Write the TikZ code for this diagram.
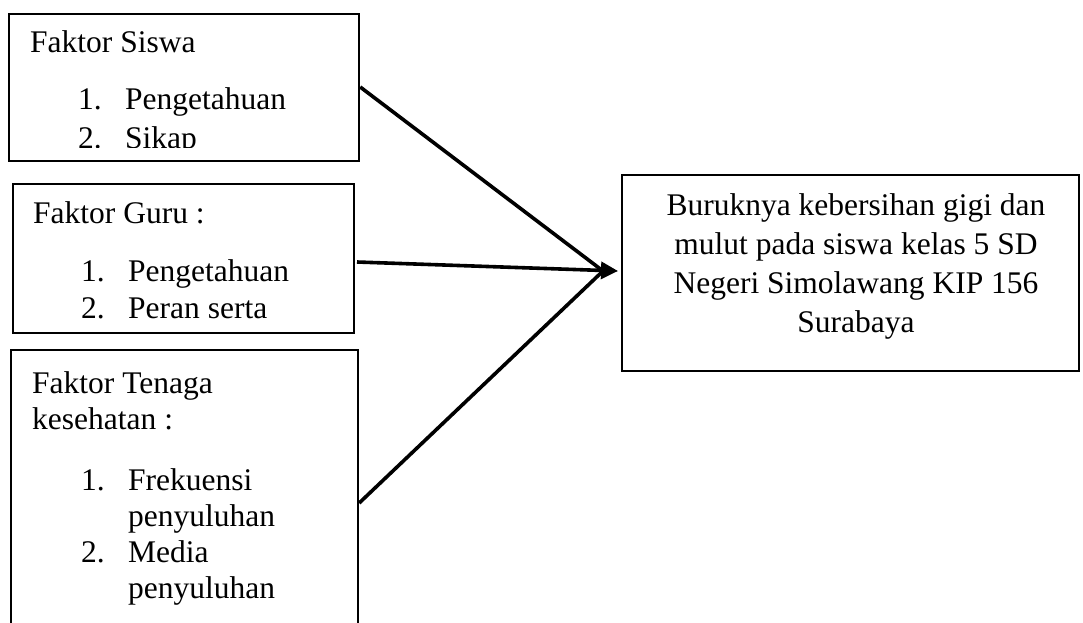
\documentclass[tikz,border=0pt]{standalone}
\usepackage{fontspec}
\setmainfont{Liberation Serif}
\usetikzlibrary{arrows.meta}
\begin{document}
\begin{tikzpicture}[x=1pt,y=-1pt,
  box/.style={draw=black,line width=2.2pt,rectangle,inner sep=0pt,anchor=north west},
  txt/.style={inner sep=0pt,anchor=base west,font=\fontsize{31.5}{37}\selectfont},
  ctxt/.style={inner sep=0pt,anchor=base,font=\fontsize{31.5}{37}\selectfont},
  conn/.style={line width=3.6pt,draw=black},
  tipstyle/.style={-{Triangle[length=17pt,width=17pt]}}]
\clip (0,0) rectangle (1083,623);
\fill[white] (0,0) rectangle (1083,623);
% boxes
\node[box,minimum width=350pt,minimum height=147pt] (b1) at (8,13) {};
\node[box,minimum width=341pt,minimum height=149pt] (b2) at (12,183) {};
\node[box,minimum width=347pt,minimum height=300pt] (b3) at (10,349) {};
\node[box,minimum width=457pt,minimum height=196pt] (b4) at (621,174) {};
% box 1 text
\node[txt] (t1a) at (30,53) {Faktor Siswa};
\node[txt] (t1b) at (78,110) {1.};
\node[txt] (t1c) at (125,110) {Pengetahuan};
\begin{scope}
\clip (10,15) rectangle (356,147);
\node[txt] (t1d) at (78,148.5) {2.};
\node[txt] (t1e) at (125,148.5) {Sikap};
\end{scope}
% box 2 text
\node[txt] (t2a) at (33,223) {Faktor Guru :};
\node[txt] (t2b) at (81,281) {1.};
\node[txt] (t2c) at (128,281) {Pengetahuan};
\node[txt] (t2d) at (81,318) {2.};
\node[txt] (t2e) at (128,318) {Peran serta};
% box 3 text
\node[txt] (t3a) at (32,393) {Faktor Tenaga};
\node[txt] (t3b) at (32,429) {kesehatan :};
\node[txt] (t3c) at (81,490) {1.};
\node[txt] (t3d) at (128,490) {Frekuensi};
\node[txt] (t3e) at (128,526) {penyuluhan};
\node[txt] (t3f) at (81,562) {2.};
\node[txt] (t3g) at (128,562) {Media};
\node[txt] (t3h) at (128,598) {penyuluhan};
% box 4 text
\node[ctxt] (r1) at (856,215) {Buruknya kebersihan gigi dan};
\node[ctxt] (r2) at (856,254) {mulut pada siswa kelas 5 SD};
\node[ctxt] (r3) at (856,293) {Negeri Simolawang KIP 156};
\node[ctxt] (r4) at (856,332) {Surabaya};
% connector points
\coordinate (s1) at (b1.north east |- 0,87);
\coordinate (s2) at (357,262);
\coordinate (s3) at (b3.north east |- 0,503);
\coordinate (meet) at (603,271);
\coordinate (tip) at (618,271);
\draw[conn] (s1) -- (meet);
\draw[conn] (s3) -- (meet);
\draw[conn,tipstyle] (s2) -- (tip);
\end{tikzpicture}
\end{document}
